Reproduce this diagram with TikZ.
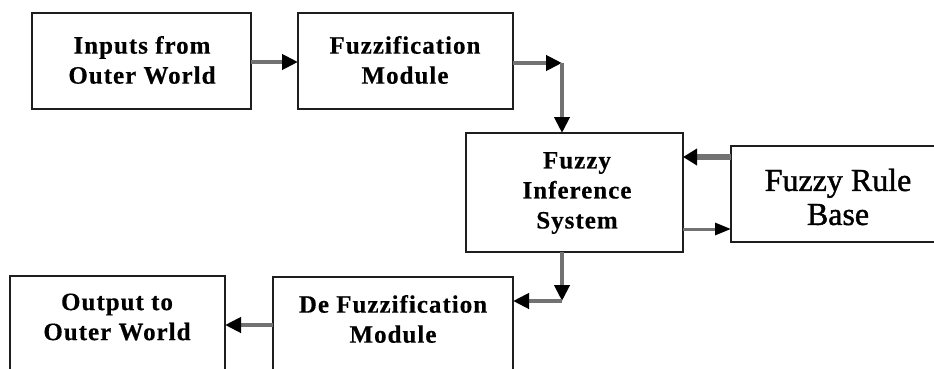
\documentclass[tikz,border=0pt]{standalone}
\usepackage{fontspec}
\setmainfont{Liberation Serif}
\usetikzlibrary{arrows.meta}
\definecolor{edge}{HTML}{1E1E1E}
\definecolor{arrgray}{HTML}{727272}
\tikzset{
  box/.style={draw=edge, line width=2pt, fill=white, inner sep=0pt, outer sep=0pt},
  txt/.style={align=center, inner sep=0pt, font=\bfseries\fontsize{25}{30}\selectfont\addfontfeatures{LetterSpace=4,FakeBold=0.4}, text=black},
  bigtxt/.style={align=center, inner sep=0pt, font=\fontsize{32}{34}\selectfont\addfontfeatures{FakeBold=1.4}, text=black},
  arr/.style={draw=arrgray, line width=4pt, -{Triangle[length=16pt,width=15pt,color=black]}},
  arrthin/.style={draw=arrgray, line width=3pt, -{Triangle[length=16pt,width=12pt,color=black]}},
  arrthick/.style={draw=arrgray, line width=6pt, -{Triangle[length=14pt,width=16pt,color=black]}}
}
\begin{document}
\begin{tikzpicture}[x=1pt,y=-1pt]
\useasboundingbox (0,0) rectangle (934,369);
\clip (0,0) rectangle (934,369);
\fill[white] (0,0) rectangle (934,369);
% boxes
\node[box, minimum width=219pt, minimum height=96pt] (inp) at (141.5,61) {};
\node[box, minimum width=215pt, minimum height=96pt] (fuz) at (405.5,61) {};
\node[box, minimum width=217pt, minimum height=119pt] (fis) at (574.5,192.5) {};
\node[box, minimum width=214pt, minimum height=96pt] (rule) at (838,194) {};
\node[box, minimum width=240pt, minimum height=103pt] (defuz) at (393,328.5) {};
\node[box, minimum width=215pt, minimum height=104pt] (out) at (117.5,328) {};
% texts
\node[txt] (inpt) at (142,60) {Inputs from\\Outer World};
\node[txt] (fuzt) at (405,60) {Fuzzification\\Module};
\node[txt] (fist) at (577,193) {Fuzzy\\Inference\\System};
\node[bigtxt] (rulet) at (838,197) {Fuzzy Rule\\Base};
\node[txt] (defuzt) at (393,319) {De Fuzzification\\Module};
\node[txt] (outt) at (117,317) {Output to\\Outer World};
% connector corners
\coordinate (c1) at (562,63);
\coordinate (c2) at (562,301);
% connectors
\draw[arr] (inp.east |- 0,62) -- (fuz.west |- 0,62);
\draw[arr] (fuz.east |- c1) -- (c1);
\draw[arr] (c1) -- (c1 |- fis.north);
\draw[arrthick] (rule.west |- 0,157) -- (fis.east |- 0,157);
\draw[arrthin] (fis.east |- 0,229) -- (rule.west |- 0,229);
\draw[arr] (c2 |- fis.south) -- (c2);
\draw[arr] (c2) -- (defuz.east |- c2);
\draw[arr] (defuz.west |- 0,325) -- (out.east |- 0,325);
\end{tikzpicture}
\end{document}
